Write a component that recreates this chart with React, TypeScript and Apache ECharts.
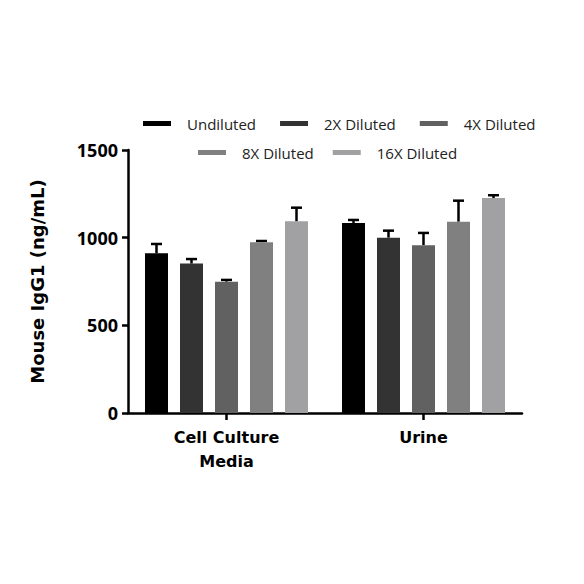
import React, { useEffect, useRef } from "react";
import * as echarts from "echarts";

const categories = ["Cell Culture\nMedia", "Urine"];
const seriesNames = ["Undiluted", "2X Diluted", "4X Diluted", "8X Diluted", "16X Diluted"];
const colors = ["#000000", "#333333", "#616161", "#808080", "#a1a1a3"];
const means = [
  [911, 1084],
  [852, 1000],
  [749, 957],
  [974, 1091],
  [1093, 1226],
];
const upperErr = [
  [964, 1101],
  [878, 1040],
  [759, 1027],
  [981, 1211],
  [1171, 1242],
];
const yTicks = [0, 500, 1000, 1500];

const BAR_W = 23;
const BAR_GAP = 12;
const FONT = "'Open Sans', 'DejaVu Sans', sans-serif";
const BOLD_FONT = "'DejaVu Sans', sans-serif";

export default function App() {
  const ref = useRef<HTMLDivElement>(null);
  useEffect(() => {
    if (!ref.current) return;
    const chart = echarts.init(ref.current, null, { renderer: "svg" });
    const n = seriesNames.length;
    const barSeries = seriesNames.map((name, i) => ({
      type: "bar",
      name,
      data: means[i],
      barWidth: BAR_W,
      barGap: (BAR_GAP / BAR_W) * 100 + "%",
      itemStyle: { color: colors[i] },
      z: 2,
    }));
    const errSeries = seriesNames.map((name, i) => ({
      type: "custom",
      name: name + " err",
      data: categories.map((_, c) => [c, means[i][c], upperErr[i][c]]),
      z: 1,
      renderItem: (params: any, api: any) => {
        const c = api.value(0);
        const base = api.coord([c, api.value(1)]);
        const top = api.coord([c, api.value(2)]);
        const offset = (i - (n - 1) / 2) * (BAR_W + BAR_GAP);
        const x = base[0] + offset;
        const half = 5.5;
        const style = { stroke: "#000", lineWidth: 2.5, fill: "none" };
        return {
          type: "group",
          children: [
            { type: "line", shape: { x1: x, y1: base[1], x2: x, y2: top[1] }, style },
            { type: "line", shape: { x1: x - half, y1: top[1], x2: x + half, y2: top[1] }, style },
          ],
        };
      },
    }));
    const legendCommon = {
      orient: "horizontal",
      itemWidth: 28,
      itemHeight: 5,
      icon: "rect",
      padding: 0,
      textStyle: {
        fontFamily: FONT,
        fontSize: 15,
        color: "#222",
        padding: [0, 0, 0, 11],
      },
    };
    chart.setOption({
      animation: false,
      backgroundColor: "#fff",
      grid: { left: 128, right: 62, top: 150, bottom: 171 },
      legend: [
        { ...legendCommon, left: 143, top: 116, itemGap: 24, data: seriesNames.slice(0, 3) },
        { ...legendCommon, left: 198, top: 145, itemGap: 19, data: seriesNames.slice(3) },
      ],
      xAxis: {
        type: "category",
        data: categories,
        axisLine: { lineStyle: { color: "#000", width: 2.5 } },
        axisTick: { show: true, length: 7, alignWithLabel: true, lineStyle: { color: "#000", width: 2.5 } },
        axisLabel: {
          fontFamily: BOLD_FONT,
          fontWeight: "bold",
          fontSize: 16,
          color: "#000",
          lineHeight: 24,
          margin: 12,
        },
        splitLine: { show: false },
      },
      yAxis: {
        type: "value",
        min: 0,
        max: 1500,
        interval: 500,
        name: "Mouse IgG1 (ng/mL)",
        nameLocation: "middle",
        nameGap: 82,
        nameRotate: 90,
        nameTextStyle: { fontFamily: BOLD_FONT, fontWeight: "bold", fontSize: 18, color: "#000" },
        axisLine: { show: true, lineStyle: { color: "#000", width: 2.5 } },
        axisTick: { show: true, length: 6, lineStyle: { color: "#000", width: 2.5 } },
        axisLabel: {
          fontFamily: FONT,
          fontWeight: "bold",
          fontSize: 18,
          color: "#000",
          margin: 10,
          formatter: (v: number) => (yTicks.includes(v) ? String(v) : ""),
        },
        splitLine: { show: false },
      },
      series: [...barSeries, ...errSeries],
    });
    return () => chart.dispose();
  }, []);
  return <div ref={ref} style={{ width: 584, height: 584, margin: -8 }} />;
}
